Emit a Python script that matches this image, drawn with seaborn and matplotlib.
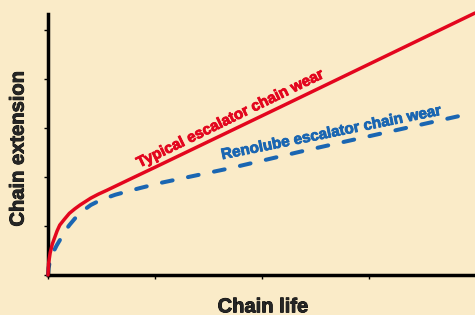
import matplotlib
matplotlib.use("Agg")
import matplotlib.pyplot as plt
import matplotlib.patheffects as pe
import seaborn as sns

# Chain life vs extension (arbitrary units)
typical_life = [0, 0.005, 0.02, 0.04, 0.065, 0.085, 0.11, 0.15, 0.2, 0.25, 0.3,
                0.35, 0.4, 0.47, 0.55, 0.75, 1.0, 2.17, 3.99]
typical_ext = [0, 0.23, 0.45, 0.63, 0.78, 0.9, 1.02, 1.13, 1.26, 1.35, 1.43,
               1.5, 1.57, 1.65, 1.73, 1.94, 2.2, 3.43, 5.35]

renolube_life = [0, 0.005, 0.02, 0.05, 0.08, 0.11, 0.15, 0.2, 0.25, 0.3, 0.35,
                 0.4, 0.5, 0.63, 0.85, 1.05, 1.7, 2.38, 3.85]
renolube_ext = [0, 0.14, 0.3, 0.47, 0.6, 0.71, 0.87, 1.02, 1.15, 1.26, 1.35,
                1.43, 1.54, 1.64, 1.77, 1.88, 2.18, 2.53, 3.25]

x_ticks = [0, 1, 2, 3]
y_ticks = [0, 1, 2, 3, 4, 5]

bg = "#FAEBC8"
red = "#E3061E"
blue = "#1A66B2"

sns.set_style("ticks")
plt.rcParams["font.family"] = ["Liberation Sans", "DejaVu Sans"]

fig = plt.figure(figsize=(4.75, 3.15), dpi=100, facecolor=bg)
ax = fig.add_axes([48 / 475, 40 / 315, 427 / 475, 261 / 315])
ax.set_facecolor(bg)

sns.lineplot(x=typical_life, y=typical_ext, ax=ax, color=red, lw=2.5,
             sort=False, clip_on=False, zorder=3)
sns.lineplot(x=renolube_life, y=renolube_ext, ax=ax, color=blue, lw=2.9,
             sort=False, clip_on=False, linestyle=(0, (2.7, 3.9)),
             dash_capstyle="round", zorder=2)

ax.set_xlim(0, 3.99)
ax.set_ylim(0, 5.33)
ax.set_xticks(x_ticks)
ax.set_yticks(y_ticks)
ax.set_xticklabels([])
ax.set_yticklabels([])
ax.tick_params(length=3, width=1, direction="out", color="black")
sns.despine(ax=ax)
for side in ["left", "bottom"]:
    ax.spines[side].set_linewidth(2.5)
    ax.spines[side].set_color("black")


def heavy(color):
    return [pe.withStroke(linewidth=0.6, foreground=color)]


ax.set_xlabel("Chain life", fontsize=14.5, fontweight="bold", va="center",
              path_effects=heavy("black"))
ax.xaxis.set_label_coords(0.503, -0.122)
ax.set_ylabel("Chain extension", fontsize=14.5, fontweight="bold", va="center",
              path_effects=heavy("black"))
ax.yaxis.set_label_coords(-0.070, 0.483)

ax.text(1.706, 3.19, "Typical escalator chain wear", color=red, fontsize=11,
        fontweight="bold", rotation=26, ha="center", va="center",
        rotation_mode="anchor", path_effects=heavy(red))
ax.text(2.65, 2.90, "Renolube escalator chain wear", color=blue, fontsize=11,
        fontweight="bold", rotation=11.5, ha="center", va="center",
        rotation_mode="anchor", path_effects=heavy(blue))

fig.savefig("out.png", dpi=100, facecolor=bg)
